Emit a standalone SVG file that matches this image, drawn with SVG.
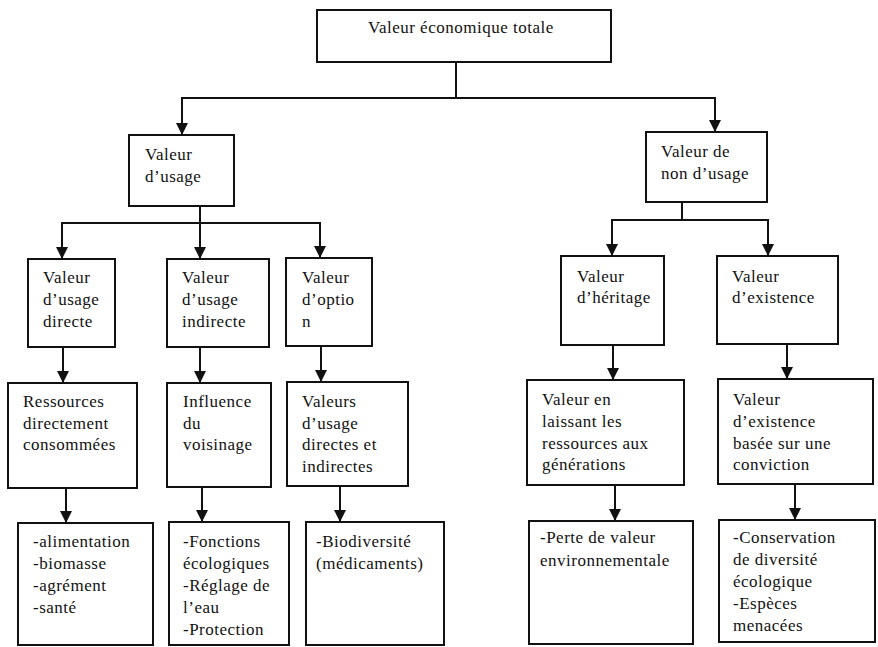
<svg xmlns="http://www.w3.org/2000/svg" width="878" height="647" viewBox="0 0 878 647">
<defs>
<marker id="ah" markerWidth="12" markerHeight="12" viewBox="0 0 12 12" refX="12" refY="6" orient="auto" markerUnits="userSpaceOnUse">
<path d="M0,0 L12,6 L0,12 Z" fill="#111"/>
</marker>
<style>
.box{fill:#fff;stroke:#111;stroke-width:2}
.t{font-family:"Liberation Serif","Times New Roman",serif;font-size:17px;letter-spacing:0.5px;fill:#111}
.c{fill:none;stroke:#111;stroke-width:2}
.a{fill:none;stroke:#111;stroke-width:2;marker-end:url(#ah)}
</style>
</defs>
<rect width="878" height="647" fill="#fff"/>
<g id="connectors">
<polyline class="c" points="456,62 456,98"/>
<polyline class="a" points="456,98 182,98 182,135"/>
<polyline class="a" points="456,98 715,98 715,132"/>
<polyline class="c" points="200,206 200,223"/>
<polyline class="a" points="200,223 62,223 62,259"/>
<polyline class="a" points="200,223 200,259"/>
<polyline class="a" points="200,223 320,223 320,258"/>
<polyline class="c" points="682,202 682,220"/>
<polyline class="a" points="682,220 612,220 612,256"/>
<polyline class="a" points="682,220 768,220 768,256"/>
<line class="a" x1="63" y1="347" x2="63" y2="383"/>
<line class="a" x1="200" y1="347" x2="200" y2="383"/>
<line class="a" x1="321" y1="346" x2="321" y2="382"/>
<line class="a" x1="613" y1="345" x2="613" y2="380"/>
<line class="a" x1="787" y1="344" x2="787" y2="379"/>
<line class="a" x1="66" y1="488" x2="66" y2="523"/>
<line class="a" x1="202" y1="487" x2="202" y2="522"/>
<line class="a" x1="340" y1="486" x2="340" y2="522"/>
<line class="a" x1="615" y1="485" x2="615" y2="521"/>
<line class="a" x1="795" y1="484" x2="795" y2="520"/>
</g>
<g id="n_total">
<rect class="box" x="317" y="10" width="294" height="52"/>
<text class="t" x="368" y="33">Valeur économique totale</text>
</g>
<g id="n_usage">
<rect class="box" x="129" y="135" width="105" height="71"/>
<text class="t" x="145" y="160">Valeur</text>
<text class="t" x="145" y="182">d’usage</text>
</g>
<g id="n_nonusage">
<rect class="box" x="646" y="132" width="121" height="70"/>
<text class="t" x="661" y="157">Valeur de</text>
<text class="t" x="661" y="179">non d’usage</text>
</g>
<g id="n_directe">
<rect class="box" x="28" y="259" width="87" height="88"/>
<text class="t" x="43" y="283">Valeur</text>
<text class="t" x="43" y="305">d’usage</text>
<text class="t" x="43" y="327">directe</text>
</g>
<g id="n_indirecte">
<rect class="box" x="167" y="259" width="102" height="88"/>
<text class="t" x="182" y="283">Valeur</text>
<text class="t" x="182" y="305">d’usage</text>
<text class="t" x="182" y="327">indirecte</text>
</g>
<g id="n_option">
<rect class="box" x="286" y="258" width="86" height="88"/>
<text class="t" x="302" y="283">Valeur</text>
<text class="t" x="302" y="305">d’optio</text>
<text class="t" x="302" y="327">n</text>
</g>
<g id="n_heritage">
<rect class="box" x="561" y="256" width="103" height="89"/>
<text class="t" x="577" y="282">Valeur</text>
<text class="t" x="577" y="303">d’héritage</text>
</g>
<g id="n_existence">
<rect class="box" x="717" y="256" width="121" height="88"/>
<text class="t" x="732" y="282">Valeur</text>
<text class="t" x="732" y="303">d’existence</text>
</g>
<g id="n_ressources">
<rect class="box" x="8" y="383" width="129" height="105"/>
<text class="t" x="23" y="407">Ressources</text>
<text class="t" x="23" y="429">directement</text>
<text class="t" x="23" y="450">consommées</text>
</g>
<g id="n_influence">
<rect class="box" x="167" y="383" width="104" height="104"/>
<text class="t" x="183" y="407">Influence</text>
<text class="t" x="183" y="429">du</text>
<text class="t" x="183" y="450">voisinage</text>
</g>
<g id="n_valeurs">
<rect class="box" x="287" y="382" width="121" height="104"/>
<text class="t" x="302" y="407">Valeurs</text>
<text class="t" x="302" y="429">d’usage</text>
<text class="t" x="302" y="450">directes et</text>
<text class="t" x="302" y="472">indirectes</text>
</g>
<g id="n_laissant">
<rect class="box" x="527" y="380" width="157" height="105"/>
<text class="t" x="542" y="405">Valeur en</text>
<text class="t" x="542" y="427">laissant les</text>
<text class="t" x="542" y="449">ressources aux</text>
<text class="t" x="542" y="470">générations</text>
</g>
<g id="n_conviction">
<rect class="box" x="718" y="379" width="155" height="105"/>
<text class="t" x="733" y="405">Valeur</text>
<text class="t" x="733" y="427">d’existence</text>
<text class="t" x="733" y="449">basée sur une</text>
<text class="t" x="733" y="470">conviction</text>
</g>
<g id="n_alimentation">
<rect class="box" x="18" y="523" width="135" height="122"/>
<text class="t" x="33" y="547">-alimentation</text>
<text class="t" x="33" y="569">-biomasse</text>
<text class="t" x="33" y="591">-agrément</text>
<text class="t" x="33" y="613">-santé</text>
</g>
<g id="n_fonctions">
<rect class="box" x="169" y="522" width="120" height="123"/>
<text class="t" x="183" y="547">-Fonctions</text>
<text class="t" x="183" y="569">écologiques</text>
<text class="t" x="183" y="591">-Réglage de</text>
<text class="t" x="183" y="613">l’eau</text>
<text class="t" x="183" y="635">-Protection</text>
</g>
<g id="n_biodiversite">
<rect class="box" x="306" y="522" width="138" height="123"/>
<text class="t" x="316" y="547">-Biodiversité</text>
<text class="t" x="316" y="569">(médicaments)</text>
</g>
<g id="n_perte">
<rect class="box" x="529" y="521" width="164" height="123"/>
<text class="t" x="540" y="543">-Perte de valeur</text>
<text class="t" x="540" y="566">environnementale</text>
</g>
<g id="n_conservation">
<rect class="box" x="719" y="520" width="156" height="122"/>
<text class="t" x="733" y="543">-Conservation</text>
<text class="t" x="733" y="565">de diversité</text>
<text class="t" x="733" y="587">écologique</text>
<text class="t" x="733" y="609">-Espèces</text>
<text class="t" x="733" y="631">menacées</text>
</g>
</svg>
